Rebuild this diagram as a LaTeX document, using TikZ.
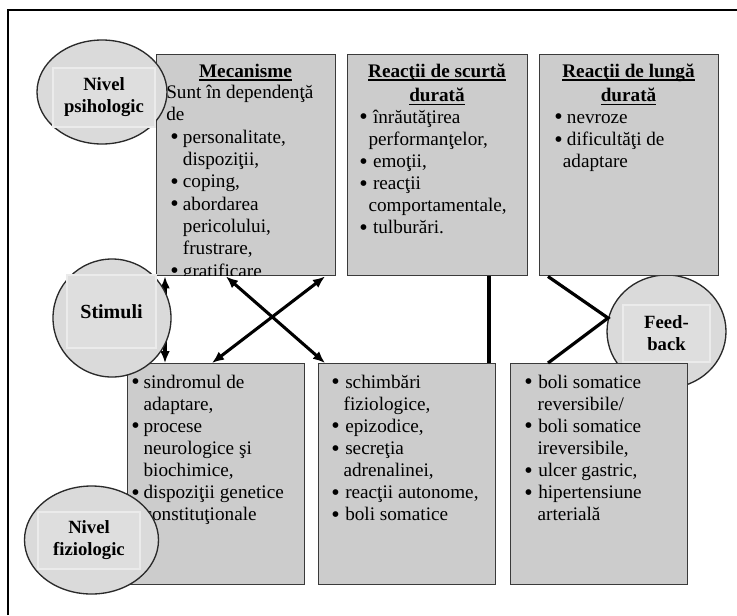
\documentclass[tikz,border=0pt]{standalone}
\usepackage{fontspec}
\usepackage{graphicx}
\setmainfont{Liberation Serif}
\usetikzlibrary{calc,arrows.meta,shapes.geometric}

\definecolor{boxfill}{HTML}{CCCCCC}
\definecolor{boxline}{HTML}{3A3A3A}
\definecolor{discfill}{HTML}{DADADA}
\definecolor{discline}{HTML}{2A2A2A}
\definecolor{tagfill}{HTML}{DEDEDE}
\definecolor{tagline}{HTML}{EBEBEB}

% bulleted entries: bullet offset, first-line text offset, hanging indent
\newlength{\bulletpos}
\newlength{\textpos}
\newlength{\hangpos}
\newcommand{\bigbullet}{\smash{\raisebox{-1.2pt}{\scalebox{1.25}{\textbullet}}}}
\newcommand{\listentry}[1]{\par\hangindent=\hangpos\hangafter=1\noindent
  \makebox[\hangpos][l]{\hspace*{\bulletpos}\bigbullet}%
  \hspace*{\dimexpr\textpos-\hangpos\relax}#1}
\newcommand{\bodyfont}{\fontsize{14.4pt}{16.6pt}\selectfont}
% underlined heading text with a rule just below the baseline
\newsavebox{\ulinebox}
\newcommand{\uln}[1]{\sbox{\ulinebox}{#1}\leavevmode
  \rlap{\usebox{\ulinebox}}\rule[-2.6pt]{\wd\ulinebox}{1pt}}

\tikzset{
  pxsize/.style 2 args={minimum width=#1*0.75pt, minimum height=#2*0.75pt},
  box/.style={rectangle, draw=boxline, fill=boxfill, line width=1.1pt,
    inner sep=0pt, anchor=north west},
  disc/.style={ellipse, draw=discline, fill=discfill, line width=1pt, inner sep=0pt},
  tag/.style={rectangle, draw=tagline, fill=tagfill, line width=0.8pt, inner sep=0pt,
    align=center, font=\bfseries\fontsize{14pt}{16.5pt}\selectfont},
  body/.style={inner sep=0pt, anchor=base west, font=\bodyfont},
  heading/.style={inner sep=0pt, anchor=base, font=\bfseries\bodyfont},
  link/.style={line width=2.4pt, draw=black},
  twoway/.style={line width=2.3pt, draw=black,
    {Latex[length=9pt,width=7.5pt]}-{Latex[length=9pt,width=7.5pt]}}
}

\begin{document}
\begin{tikzpicture}[x=0.75pt,y=-0.75pt]
\useasboundingbox (0,0) rectangle (737,615);
\fill[white] (0,0) rectangle (737,615);

% outer frame (left and top rules)
\draw[line width=2.2pt] (8,615) -- (8,10) -- (737,10);

% feedback disc sits beneath the lower right box
\node[disc, pxsize={119}{113}] (FB) at (666.5,331.5) {};
\node[tag, pxsize={87}{57}] (FBt) at (666.5,333.5) {Feed-\\back};

% upper row
\node[box, pxsize={179}{221}] (M) at (156,54) {};
\node[box, pxsize={180}{221}] (S) at (347,54) {};
\node[box, pxsize={179}{221}] (L) at (539,54) {};
% lower row
\node[box, pxsize={177}{221}] (BL) at (127,363) {};
\node[box, pxsize={177}{221}] (BM) at (318,363) {};
\node[box, pxsize={177}{221}] (BR) at (510,363) {};

% headings
\node[heading] (Mh) at (245.5,77.3) {\uln{Mecanisme}};
\node[heading] (Sh) at (437,77.3) {\parbox[t]{170pt}{\centering
  \uln{Reacţii de scurtă}\\[1.7pt]\uln{durată}}};
\node[heading] (Lh) at (628.5,77.3) {\parbox[t]{170pt}{\centering
  \uln{Reacţii de lungă}\\[1.7pt]\uln{durată}}};

% mechanisms text, cut off by the box bottom
\begin{scope}
  \clip ($(M.south west)+(1,-1)$) rectangle ($(M.north east)+(-1,1)$);
  \node[body] (Mt) at (166,98.5) {\parbox[t]{170pt}{\raggedright
    \fontsize{14.4pt}{16.75pt}\selectfont
    \setlength{\bulletpos}{3pt}\setlength{\textpos}{12.5pt}\setlength{\hangpos}{12.5pt}%
    Sunt în dependenţă\newline de
    \listentry{personalitate,\newline dispoziţii,}
    \listentry{coping,}
    \listentry{abordarea\newline pericolului,\newline frustrare,}
    \listentry{gratificare}}};
\end{scope}

\node[body] (St) at (359,123.3) {\parbox[t]{170pt}{\raggedright
  \setlength{\bulletpos}{0pt}\setlength{\textpos}{10.3pt}\setlength{\hangpos}{7pt}%
  \listentry{înrăutăţirea\newline performanţelor,}
  \listentry{emoţii,}
  \listentry{reacţii\newline comportamentale,}
  \listentry{tulburări.}}};

\node[body] (Lt) at (554,123.3) {\parbox[t]{170pt}{\raggedright
  \setlength{\bulletpos}{0pt}\setlength{\textpos}{9.5pt}\setlength{\hangpos}{6.5pt}%
  \listentry{nevroze}
  \listentry{dificultăţi de\newline adaptare}}};

\node[body] (BLt) at (131,388) {\parbox[t]{170pt}{\raggedright
  \setlength{\bulletpos}{0pt}\setlength{\textpos}{9.25pt}\setlength{\hangpos}{9.25pt}%
  \listentry{sindromul de\newline adaptare,}
  \listentry{procese\newline neurologice şi\newline biochimice,}
  \listentry{dispoziţii genetice\newline constituţionale}}};

\node[body] (BMt) at (331,388) {\parbox[t]{170pt}{\raggedright
  \setlength{\bulletpos}{0pt}\setlength{\textpos}{10.5pt}\setlength{\hangpos}{9.25pt}%
  \listentry{schimbări\newline fiziologice,}
  \listentry{epizodice,}
  \listentry{secreţia\newline adrenalinei,}
  \listentry{reacţii autonome,}
  \listentry{boli somatice}}};

\node[body] (BRt) at (524,388) {\parbox[t]{170pt}{\raggedright
  \setlength{\bulletpos}{0pt}\setlength{\textpos}{10.5pt}\setlength{\hangpos}{10pt}%
  \listentry{boli somatice\newline reversibile/}
  \listentry{boli somatice\newline ireversibile,}
  \listentry{ulcer gastric,}
  \listentry{hipertensiune\newline arterială}}};

% connectors
\draw[twoway] ($(M.south west)+(9,0)$) -- ($(BL.north west)+(38,0)$);
\draw[twoway] ($(M.south west)+(70,0)$) -- ($(BM.north west)+(7,0)$);
\draw[twoway] ($(M.south west)+(169,0)$) -- ($(BL.north west)+(85,0)$);
\draw[link] ($(S.south west)+(142,0)$) -- ($(BM.north west)+(171,0)$);
\draw[link] ($(L.south west)+(9,0)$) -- (FB.167) -- ($(BR.north west)+(38,0)$);

% level and stimulus discs on top
\node[disc, pxsize={130}{104}] (NP) at (102,92) {};
\node[tag, pxsize={102}{59}] (NPt) at (104,97.5) {Nivel\\psihologic};

\node[disc, pxsize={118}{118}] (ST) at (112,318) {};
\node[tag, pxsize={89}{73}] (STt) at (111.5,311.5) {\fontsize{15pt}{17pt}\selectfont Stimuli};

\node[disc, pxsize={134}{108}] (NF) at (91.5,540) {};
\node[tag, pxsize={102}{57}] (NFt) at (89,540.5) {Nivel\\fiziologic};
\end{tikzpicture}
\end{document}
